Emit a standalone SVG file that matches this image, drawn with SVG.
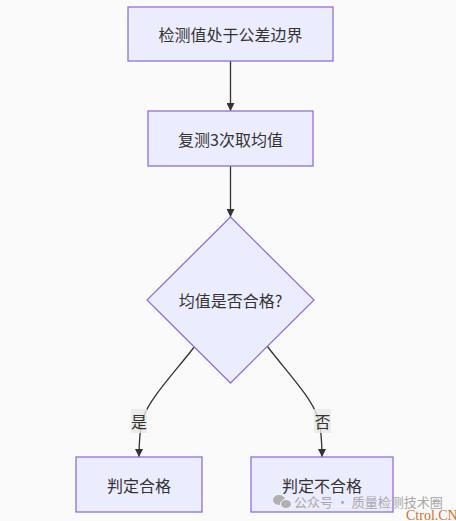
<svg xmlns="http://www.w3.org/2000/svg" width="456" height="521" viewBox="0 0 456 521">
<style>
.node{fill:#ECECFF;stroke:#9370DB;stroke-width:1.3}
.t{font-family:"Noto Sans CJK SC","Liberation Sans",sans-serif;font-size:16px;fill:#333;text-anchor:middle;dominant-baseline:central}
.edge{fill:none;stroke:#333;stroke-width:1.3}
.lblbg{fill:#e8e8e8;opacity:0.8}
.wm{font-family:"Noto Sans CJK SC",sans-serif;font-size:13px;fill:#a8a8a8}
</style>
<defs>
<marker id="arr" viewBox="0 0 10 10" refX="10" refY="5" markerWidth="8" markerHeight="8" markerUnits="userSpaceOnUse" orient="auto">
<path d="M0,0 L10,5 L0,10 z" fill="#333"/>
</marker>
</defs>
<rect width="456" height="521" fill="#fafafa"/>
<g id="edges">
<path class="edge" d="M230.5,61 L230.5,111" marker-end="url(#arr)"/>
<path class="edge" d="M230.5,166 L230.5,217" marker-end="url(#arr)"/>
<path class="edge" d="M195,346 C175,372 150,398 143,418 C139,432 139,445 139,457" marker-end="url(#arr)"/>
<path class="edge" d="M267,346 C287,372 312,398 318,418 C322,432 322,445 322,457" marker-end="url(#arr)"/>
</g>
<g id="n1">
<rect class="node" x="128" y="7" width="205" height="54"/>
<text class="t" x="230.5" y="34">检测值处于公差边界</text>
</g>
<g id="n2">
<rect class="node" x="148" y="111" width="165" height="55"/>
<text class="t" x="230.5" y="138.5">复测3次取均值</text>
</g>
<g id="n3">
<polygon class="node" points="230.5,217 314,300 230.5,383 147,300"/>
<text class="t" x="230.5" y="300">均值是否合格?</text>
</g>
<g id="n4">
<rect class="node" x="76" y="457" width="126" height="55"/>
<text class="t" x="139" y="484.5">判定合格</text>
</g>
<g id="n5">
<rect class="node" x="251" y="457" width="142" height="55"/>
<text class="t" x="322" y="484.5">判定不合格</text>
</g>
<g id="labels">
<rect class="lblbg" x="131" y="409" width="16" height="24"/>
<text class="t" x="139" y="421">是</text>
<rect class="lblbg" x="314" y="409" width="17" height="24"/>
<text class="t" x="322.5" y="421">否</text>
</g>
<g id="watermark">
<ellipse cx="279" cy="500" rx="6" ry="5" fill="#b0b0b0"/>
<ellipse cx="286" cy="504" rx="5.5" ry="4.5" fill="#b0b0b0" stroke="#fafafa" stroke-width="1"/>
<text class="wm" x="294" y="507">公众号 · 质量检测技术圈</text>
<text x="406" y="520" font-family="Liberation Serif,serif" font-size="14" fill="#c8742c">Ctrol.CN</text>
</g>
</svg>
